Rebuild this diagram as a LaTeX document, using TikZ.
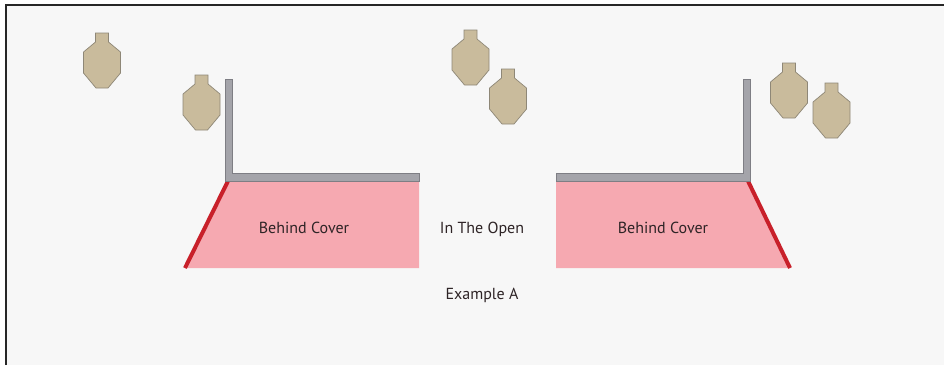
\documentclass[tikz,border=0pt]{standalone}
\usepackage{fontspec}
\setmainfont{PT Sans}
\usepackage{tikz}
\usetikzlibrary{positioning}
\definecolor{bgcol}{HTML}{F7F7F7}
\definecolor{tancol}{HTML}{C9BB9C}
\definecolor{tanline}{HTML}{8E8777}
\definecolor{wallcol}{HTML}{A4A4AA}
\definecolor{wallline}{HTML}{7E7E84}
\definecolor{zonecol}{HTML}{F6A9B1}
\definecolor{edgecol}{HTML}{C8202A}
\definecolor{txtcol}{HTML}{2E2426}

\begin{document}
\begin{tikzpicture}[x=1pt,y=-1pt,
      every node/.style={align=center,text=txtcol,font=\fontsize{16}{19}\selectfont},
      txtlbl/.style={anchor=base},
      wall/.style={fill=wallcol,draw=wallline,line width=0.8pt},
      zone/.style={fill=zonecol},
      redline/.style={draw=edgecol,line width=4pt},
      target/.pic={
        \filldraw[fill=tancol,draw=tanline,line width=0.7pt]
          (-6.5,0) -- (6.5,0) -- (6.5,9) -- (18.5,19) -- (18.5,40) -- (6,55)
          -- (-6,55) -- (-18.5,40) -- (-18.5,19) -- (-6.5,9) -- cycle;}]
    \useasboundingbox (0,0) rectangle (944,365);
    \fill[white] (0,0) rectangle (944,365);
    \fill[bgcol] (6,5) rectangle (944,365);
    \draw[line width=2.5pt,black!85] (6,365) -- (6,5) -- (944,5);
    \foreach \tx/\ty in {102/33,201.5/75,470.5/30,508/69,789/63,831.5/83}
      \pic at (\tx,\ty) {target};
    \fill[zone] (228,181) -- (419,181) -- (419,268) -- (185,268) -- cycle;
    \draw[redline] (228,181) -- (185,268);
    \draw[wall] (225,79) -- (232,79) -- (232,173) -- (419,173) -- (419,181)
      -- (225,181) -- cycle;
    \fill[zone] (556,181) -- (748,181) -- (790,268) -- (556,268) -- cycle;
    \draw[redline] (748,181) -- (790,268);
    \draw[wall] (750,79) -- (743,79) -- (743,173) -- (556,173) -- (556,181)
      -- (750,181) -- cycle;
    \node[txtlbl] (coverL) at (304,233) {Behind Cover};
    \node[txtlbl] (coverR) at (663,233) {Behind Cover};
    \node[txtlbl] (open) at (482,233) {In The Open};
    \node[txtlbl] (caption) at (482,299) {Example A};
\end{tikzpicture}
\end{document}
